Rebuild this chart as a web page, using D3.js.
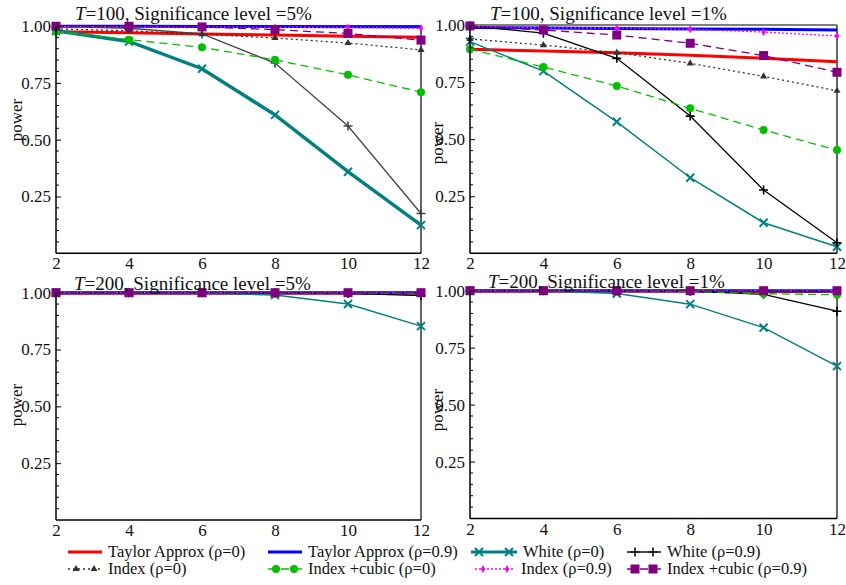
<!DOCTYPE html>
<html>
<head>
<meta charset="utf-8">
<script src="https://cdn.jsdelivr.net/npm/d3@7"></script>
<style>
  body { margin: 0; background: #fff; }
  svg text { font-family: "Liberation Serif", "Times New Roman", serif; font-size: 17px; fill: #111; }
  svg text.title { font-size: 19px; }
  svg text.legend { font-size: 16.5px; }
</style>
</head>
<body>
<div id="container"></div>
<script>
// lag values on the x axis
var lags = [2, 4, 6, 8, 10, 12];
var yTicks = [0.25, 0.5, 0.75, 1.0];

// series order: taylor0, taylor09, white0, white09, index0, cubic0, index09, cubic09
var seriesNames = ["Taylor Approx (\u03c1=0)", "Taylor Approx (\u03c1=0.9)", "White (\u03c1=0)", "White (\u03c1=0.9)",
  "Index (\u03c1=0)", "Index +cubic (\u03c1=0)", "Index (\u03c1=0.9)", "Index +cubic (\u03c1=0.9)"];

// T=100, 5%
var t100_5 = [
  [0.975, 0.970, 0.965, 0.960, 0.955, 0.950],
  [0.999, 0.999, 0.998, 0.998, 0.997, 0.997],
  [0.979, 0.932, 0.812, 0.609, 0.359, 0.124],
  [0.998, 0.990, 0.965, 0.837, 0.560, 0.175],
  [0.987, 0.979, 0.964, 0.947, 0.925, 0.895],
  [0.976, 0.940, 0.906, 0.851, 0.785, 0.709],
  [0.998, 0.997, 0.996, 0.995, 0.994, 0.990],
  [0.999, 0.999, 0.996, 0.984, 0.967, 0.938]
];
// T=100, 1%
var t100_1 = [
  [0.894, 0.886, 0.878, 0.867, 0.854, 0.839],
  [0.989, 0.987, 0.985, 0.983, 0.981, 0.978],
  [0.927, 0.798, 0.576, 0.331, 0.134, 0.029],
  [0.996, 0.964, 0.854, 0.601, 0.277, 0.046],
  [0.939, 0.912, 0.879, 0.832, 0.775, 0.712],
  [0.894, 0.816, 0.733, 0.635, 0.540, 0.452],
  [0.993, 0.987, 0.987, 0.981, 0.969, 0.952],
  [0.996, 0.978, 0.956, 0.920, 0.866, 0.793]
];
// T=200, 5%
var t200_5 = [
  [0.998, 0.998, 0.998, 0.998, 0.998, 0.998],
  [1.000, 1.000, 1.000, 1.000, 1.000, 1.000],
  [1.000, 1.000, 0.999, 0.990, 0.950, 0.853],
  [1.000, 1.000, 1.000, 0.999, 0.997, 0.987],
  [1.000, 1.000, 1.000, 0.999, 0.998, 0.996],
  [1.000, 1.000, 1.000, 1.000, 0.999, 0.998],
  [1.000, 1.000, 1.000, 1.000, 1.000, 1.000],
  [1.000, 1.000, 1.000, 1.000, 1.000, 1.000]
];
// T=200, 1%
var t200_1 = [
  [0.998, 0.998, 0.998, 0.998, 0.997, 0.997],
  [1.000, 1.000, 1.000, 1.000, 1.000, 1.000],
  [1.000, 1.000, 0.988, 0.941, 0.838, 0.669],
  [1.000, 1.000, 1.000, 0.998, 0.984, 0.910],
  [1.000, 1.000, 1.000, 0.999, 0.997, 0.993],
  [1.000, 1.000, 1.000, 0.997, 0.987, 0.982],
  [1.000, 1.000, 1.000, 1.000, 1.000, 1.000],
  [1.000, 1.000, 1.000, 1.000, 1.000, 1.000]
];

var styles = [
  { color: "#ff0000", width: 3, dash: null, marker: null },
  { color: "#0000ff", width: 3, dash: null, marker: null },
  { color: "#008080", width: 1.5, dash: null, marker: "x" },
  { color: "#111111", width: 1.3, dash: null, marker: "plus" },
  { color: "#333333", width: 1.3, dash: "2,3", marker: "tri" },
  { color: "#00c000", width: 1.3, dash: "8,5", marker: "circle" },
  { color: "#ff00ff", width: 1.3, dash: "2,2", marker: "diamond" },
  { color: "#800080", width: 1.3, dash: "8,5", marker: "square" }
];

var panels = [
  { data: t100_5, title: "=100, Significance level =5%", x0: 56, x1: 421, yTop: 26, yBot: 253.3, tx: 75, ty: 20, py: 120, px: 17, thick: true, w09: "#444444" },
  { data: t100_1, title: "=100, Significance level =1%", x0: 470, x1: 837, yTop: 25, yBot: 253.3, tx: 490, ty: 20, py: 143, px: 438, thick: false, w09: "#000000" },
  { data: t200_5, title: "=200, Significance level =5%", x0: 56, x1: 421, yTop: 292.7, yBot: 520, tx: 74, ty: 290, py: 405, px: 17, thick: false, w09: "#000000" },
  { data: t200_1, title: "=200, Significance level =1%", x0: 470, x1: 837, yTop: 290.7, yBot: 518.5, tx: 488, ty: 288, py: 410, px: 438, thick: false, w09: "#000000" }
];

var svg = d3.select("#container").append("svg")
  .attr("width", 846).attr("height", 585);

function drawMarker(g, type, cx, cy, color) {
  if (type === "x") {
    var s = 4;
    g.append("path").attr("d", "M" + (cx - s) + "," + (cy - s) + "L" + (cx + s) + "," + (cy + s) + "M" + (cx - s) + "," + (cy + s) + "L" + (cx + s) + "," + (cy - s))
      .attr("stroke", color).attr("stroke-width", 2).attr("fill", "none");
  } else if (type === "plus") {
    var s = 4.5;
    g.append("path").attr("d", "M" + (cx - s) + "," + cy + "L" + (cx + s) + "," + cy + "M" + cx + "," + (cy - s) + "L" + cx + "," + (cy + s))
      .attr("stroke", color).attr("stroke-width", 1.6).attr("fill", "none");
  } else if (type === "tri") {
    g.append("path").attr("d", d3.symbol().type(d3.symbolTriangle).size(22)())
      .attr("transform", "translate(" + cx + "," + cy + ")").attr("fill", color);
  } else if (type === "circle") {
    g.append("circle").attr("cx", cx).attr("cy", cy).attr("r", 4).attr("fill", color);
  } else if (type === "diamond") {
    g.append("path").attr("d", d3.symbol().type(d3.symbolDiamond).size(18)())
      .attr("transform", "translate(" + cx + "," + cy + ")").attr("fill", color);
  } else if (type === "square") {
    g.append("rect").attr("x", cx - 4.5).attr("y", cy - 4.5).attr("width", 9).attr("height", 9).attr("fill", color);
  }
}

panels.forEach(function (p) {
  var x = d3.scaleLinear().domain([2, 12]).range([p.x0, p.x1]);
  var y = d3.scaleLinear().domain([0, 1]).range([p.yBot, p.yTop]);
  var g = svg.append("g");

  // frame: top and right
  g.append("line").attr("x1", p.x0).attr("x2", p.x1).attr("y1", p.yTop).attr("y2", p.yTop)
    .attr("stroke", "#000").attr("stroke-width", 1);
  g.append("line").attr("x1", p.x1).attr("x2", p.x1).attr("y1", p.yTop).attr("y2", p.yBot)
    .attr("stroke", "#666").attr("stroke-width", 2);

  // series
  var line = d3.line().x(function (d, i) { return x(lags[i]); }).y(function (d) { return y(d); });
  p.data.forEach(function (vals, si) {
    var st = styles[si];
    var color = si === 3 ? p.w09 : st.color;
    var width = (si === 2 && p.thick) ? 3.5 : st.width;
    var path = g.append("path").datum(vals).attr("d", line)
      .attr("fill", "none").attr("stroke", color).attr("stroke-width", width);
    if (st.dash) path.attr("stroke-dasharray", st.dash);
    if (st.marker) {
      vals.forEach(function (v, i) { drawMarker(g, st.marker, x(lags[i]), y(v), color); });
    }
  });

  // left axis with inward ticks
  var yAxis = d3.axisRight(y).tickValues(yTicks).tickFormat(d3.format(".2f")).tickSize(5);
  var ya = g.append("g").attr("transform", "translate(" + p.x0 + ",0)").call(yAxis);
  ya.select(".domain").remove();
  ya.selectAll("text").attr("text-anchor", "end").attr("x", -5).attr("dy", "0.32em");
  var minor = d3.range(0.05, 1.0, 0.05).filter(function (v) { return Math.abs(v * 4 - Math.round(v * 4)) > 1e-6; });
  g.append("g").selectAll("line").data(minor).enter().append("line")
    .attr("x1", p.x0).attr("x2", p.x0 + 3).attr("y1", function (d) { return y(d); }).attr("y2", function (d) { return y(d); })
    .attr("stroke", "#000");
  g.append("line").attr("x1", p.x0).attr("x2", p.x0).attr("y1", p.yTop).attr("y2", p.yBot)
    .attr("stroke", "#000").attr("stroke-width", 1.5);

  // bottom axis
  var xAxis = d3.axisBottom(x).tickValues(lags).tickSize(0).tickPadding(4);
  var xa = g.append("g").attr("transform", "translate(0," + p.yBot + ")").call(xAxis);
  xa.select(".domain").remove();
  g.append("line").attr("x1", p.x0).attr("x2", p.x1).attr("y1", p.yBot).attr("y2", p.yBot)
    .attr("stroke", "#000").attr("stroke-width", 1.5);

  // title
  var t = g.append("text").attr("class", "title").attr("x", p.tx).attr("y", p.ty);
  t.append("tspan").attr("font-style", "italic").text("T");
  t.append("tspan").text(p.title);

  // y label
  g.append("text").attr("transform", "translate(" + (p.px + 5) + "," + p.py + ") rotate(-90)")
    .attr("text-anchor", "middle").text("power");
});

// legend
var legendRows = [
  [0, 1, 2, 3],
  [4, 5, 6, 7]
];
var legendX = [[68, 268, 471, 627], [68, 268, 475, 627]];
var legendY = [552, 569];
legendRows.forEach(function (row, r) {
  row.forEach(function (si, c) {
    var st = styles[si];
    var lx = legendX[r][c];
    var len = (c === 2) ? 46 : 34;
    if (r === 1 && c === 2) len = 40;
    var ly = legendY[r];
    var g = svg.append("g");
    var ln = g.append("line").attr("x1", lx).attr("x2", lx + len).attr("y1", ly).attr("y2", ly)
      .attr("stroke", st.color).attr("stroke-width", si === 2 ? 3 : st.width);
    if (st.dash) ln.attr("stroke-dasharray", st.dash);
    if (st.marker) {
      drawMarker(g, st.marker, lx + 8, ly, st.color);
      drawMarker(g, st.marker, lx + len - 8, ly, st.color);
    }
    g.append("text").attr("class", "legend").attr("x", lx + len + 6).attr("y", ly + 5).text(seriesNames[si]);
  });
});
</script>
</body>
</html>
